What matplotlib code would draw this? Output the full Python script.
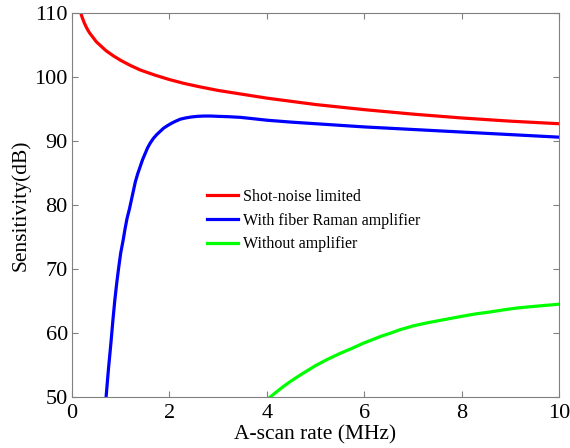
import matplotlib.pyplot as plt

plt.rcParams['font.family'] = ['Liberation Serif', 'DejaVu Serif']

# Shot-noise limited
x_shot = [0.18, 0.20, 0.22, 0.25, 0.28, 0.32, 0.36, 0.42, 0.5, 0.6, 0.7, 0.85, 1.0, 1.2, 1.4, 1.7, 2.0, 2.3,
          2.6, 3.0, 3.5, 4.0, 4.5, 5.0, 5.5, 6.0, 7.0, 8.0, 9.0, 10.0]
y_shot = [110.0, 109.5, 109.1, 108.5, 108.0, 107.4, 106.9, 106.3, 105.5, 104.8, 104.1, 103.3, 102.6, 101.8,
          101.1, 100.3, 99.6, 99.0, 98.5, 97.9, 97.3, 96.7, 96.2, 95.7, 95.3, 94.9, 94.2, 93.6, 93.1, 92.7]

# With fiber Raman amplifier
x_raman = [0.70, 0.75, 0.80, 0.84, 0.88, 0.92, 0.96, 1.00, 1.05, 1.09, 1.13, 1.18, 1.22, 1.26, 1.30, 1.35,
           1.40, 1.45, 1.50, 1.55, 1.60, 1.67, 1.74, 1.81, 1.88, 1.96, 2.05, 2.13, 2.22, 2.33, 2.45, 2.57,
           2.70, 2.85, 3.0, 3.2, 3.45, 3.7, 4.0, 4.5, 5.0, 5.5, 6.0, 7.0, 8.0, 9.0, 10.0]
y_raman = [50.0, 54.5, 58.5, 62.0, 65.2, 67.9, 70.3, 72.5, 74.5, 76.3, 77.9, 79.4, 80.8, 82.2, 83.6, 84.9,
           86.0, 87.1, 88.0, 88.9, 89.6, 90.4, 91.0, 91.5, 92.0, 92.4, 92.8, 93.1, 93.4, 93.6, 93.75, 93.85,
           93.9, 93.9, 93.85, 93.8, 93.7, 93.5, 93.25, 92.95, 92.7, 92.45, 92.2, 91.8, 91.4, 91.0, 90.6]

# Without amplifier
x_none = [4.07, 4.2, 4.35, 4.5, 4.68, 4.85, 5.0, 5.25, 5.5, 5.75, 5.98, 6.15, 6.35, 6.55, 6.73, 7.0, 7.3,
          7.65, 8.0, 8.3, 8.6, 8.85, 9.13, 9.4, 9.7, 10.0]
y_none = [50.0, 50.8, 51.7, 52.5, 53.4, 54.2, 54.9, 55.9, 56.8, 57.6, 58.4, 58.9, 59.5, 60.0, 60.5, 61.1,
          61.6, 62.1, 62.6, 63.0, 63.3, 63.6, 63.9, 64.1, 64.3, 64.5]

fig = plt.figure(figsize=(5.7, 4.48), dpi=100)
ax = fig.add_axes([72 / 570, 51 / 448, 487 / 570, 384 / 448])

ax.plot(x_shot, y_shot, color='#ff0000', lw=2.3, label='Shot-noise limited')
ax.plot(x_raman, y_raman, color='#0000ff', lw=2.3, label='With fiber Raman amplifier')
ax.plot(x_none, y_none, color='#00ff00', lw=2.3, label='Without amplifier')

ax.set_xlim(0, 10)
ax.set_ylim(50, 110)
ax.set_xticks([0, 2, 4, 6, 8, 10])
ax.set_yticks([50, 60, 70, 80, 90, 100, 110])
ax.tick_params(direction='in', top=True, right=True, labelsize=16, color='#808080', length=4)
ax.tick_params(axis='x', pad=5)
ax.tick_params(axis='y', pad=3)
for s in ax.spines.values():
    s.set_color('#808080')

ax.set_xlabel('A-scan rate (MHz)', fontsize=15.5, labelpad=2)
ax.set_ylabel('Sensitivity(dB)', fontsize=15.5, labelpad=3)

ax.legend(loc='upper left', bbox_to_anchor=(0.247, 0.579), frameon=False, fontsize=11.5,
          handlelength=1.95, handletextpad=0.3, labelspacing=0.48)

fig.savefig('out.png', dpi=100)
